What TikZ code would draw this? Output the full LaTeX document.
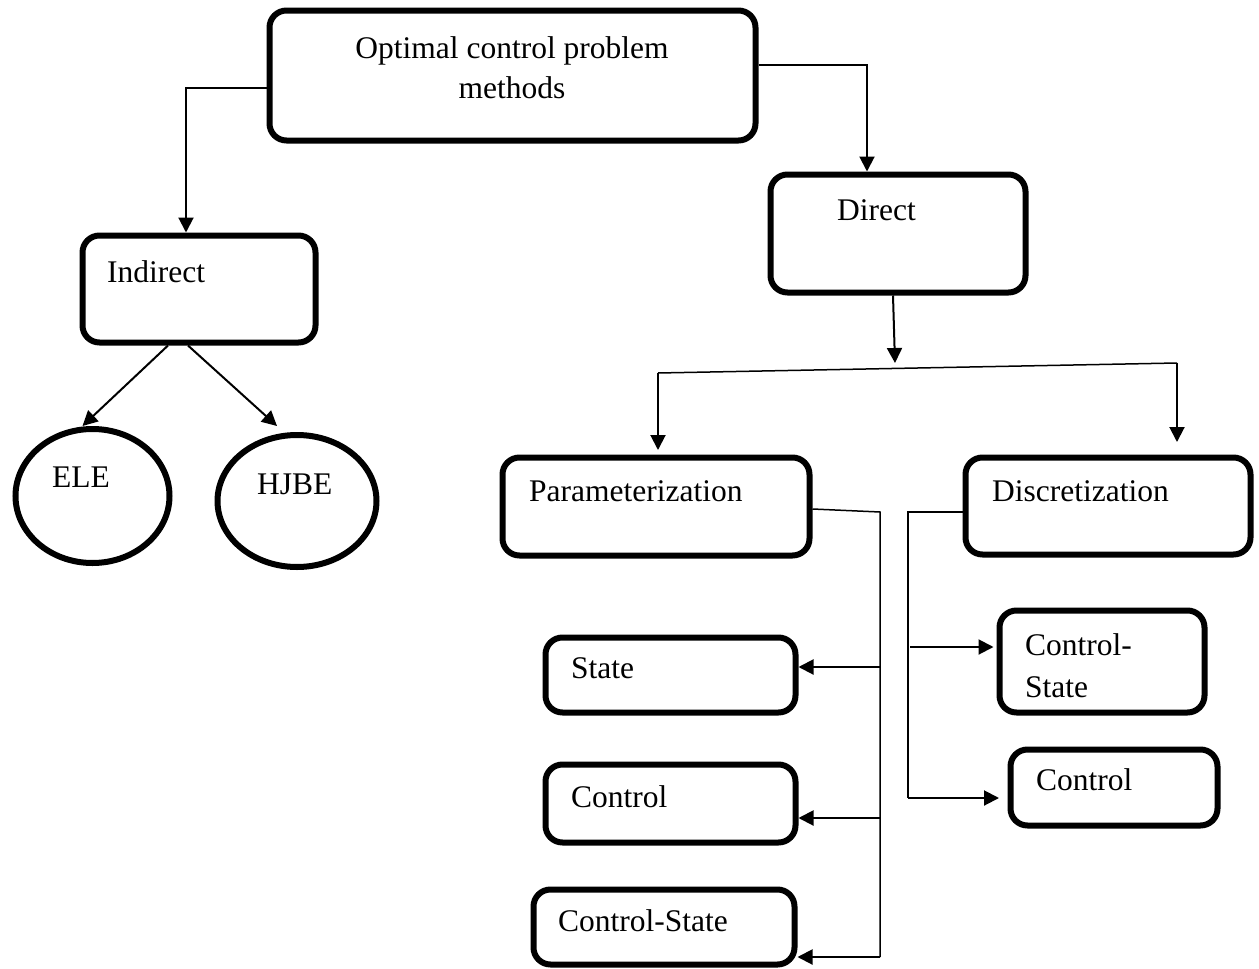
\documentclass[tikz,border=0pt]{standalone}
\usepackage{fontspec}
\setmainfont{Liberation Serif}
\usetikzlibrary{arrows.meta,shapes.geometric,calc}
\begin{document}
\begin{tikzpicture}[x=1pt,y=-1pt,
  box/.style={draw, line width=6pt, rounded corners=17pt, inner sep=0pt},
  oval/.style={draw, ellipse, line width=6pt, inner sep=0pt},
  txt/.style={anchor=base west, inner sep=0pt, font=\fontsize{31.5}{42}\selectfont},
  ctxt/.style={anchor=base, inner sep=0pt, font=\fontsize{31.5}{42}\selectfont},
  arr/.style={line width=2pt, -{Triangle[length=15pt,width=15pt]}},
  ln/.style={line width=1.5pt}]
\useasboundingbox (0,0) rectangle (1259,969);
% boxes
\node[box, minimum width=486pt, minimum height=130pt] (top) at (512.5,75.5) {};
\node[box, minimum width=233pt, minimum height=107pt] (ind) at (199,289) {};
\node[box, minimum width=255pt, minimum height=118pt] (dir) at (898,233.5) {};
\node[box, minimum width=307pt, minimum height=98pt] (par) at (656,506.5) {};
\node[box, minimum width=285pt, minimum height=97pt] (disc) at (1108,506) {};
\node[box, minimum width=250pt, minimum height=75pt] (state) at (670.5,675) {};
\node[box, minimum width=250pt, minimum height=78pt] (ctrll) at (670.5,803.5) {};
\node[box, minimum width=261pt, minimum height=75pt] (csl) at (664,927) {};
\node[box, minimum width=205pt, minimum height=102pt] (csr) at (1102,661.5) {};
\node[box, minimum width=207pt, minimum height=76pt] (ctrlr) at (1114,787.5) {};
\node[oval, minimum width=154pt, minimum height=134pt] (ele) at (92.5,496) {};
\node[oval, minimum width=159pt, minimum height=132pt] (hjbe) at (297,501) {};
% texts
\node[ctxt] (t1) at (512,58) {Optimal control problem};
\node[ctxt] (t2) at (512,98) {methods};
\node[txt] (tind) at (107,282) {Indirect};
\node[txt] (tdir) at (837,220) {Direct};
\node[txt] (tpar) at (529,501) {Parameterization};
\node[txt] (tdisc) at (992,501) {Discretization};
\node[txt] (tstate) at (571,678) {State};
\node[txt] (tctrll) at (571,807) {Control};
\node[txt] (tcsl) at (558,931) {Control-State};
\node[txt] (tcsr1) at (1025,655) {Control-};
\node[txt] (tcsr2) at (1025,697) {State};
\node[txt] (tctrlr) at (1036,790) {Control};
\node[txt] (tele) at (52,487) {ELE};
\node[txt] (thjbe) at (257,494) {HJBE};
% connectors from top
\draw[arr] ([yshift=-12.5pt]top.west) -| ([xshift=-13pt]ind.north);
\draw[arr] ([yshift=10.5pt]top.east) -| ([xshift=-31pt]dir.north);
% indirect to ellipses
\draw[arr] ([xshift=-31pt]ind.south) -- ([xshift=-10pt]ele.north);
\draw[arr] ([xshift=-11pt]ind.south) -- ([xshift=-20pt,yshift=6pt]hjbe.north);
% direct branch
\coordinate (jd) at (895,363);
\coordinate (bl) at (658,373);
\coordinate (br) at (1177,363);
\draw[arr] ([xshift=-5pt]dir.south) -- (jd);
\draw[ln] (bl) -- (br);
\draw[arr, shorten >=4.5pt] (bl) -- (bl |- par.north);
\draw[arr, shorten >=12.5pt] (br) -- (br |- disc.north);
% parameterization tree
\coordinate (pv) at (880,512);
\coordinate (pb) at (880,957);
\draw[ln] ([yshift=-2.5pt]par.east) -- (pv) -- (pb);
\coordinate (sA) at ([yshift=8pt]state.east);
\coordinate (cA) at ([yshift=-14.5pt]ctrll.east);
\coordinate (csA) at ([yshift=-30pt]csl.east);
\draw[arr] (sA -| pv) -- (sA);
\draw[arr] (cA -| pv) -- (cA);
\draw[arr] (csA -| pv) -- (csA);
% discretization tree
\coordinate (dtop) at (908,512);
\coordinate (dbot) at (908,798);
\draw[ln] ([yshift=-6pt]disc.west) -- (dtop) -- (dbot);
\coordinate (rA) at ([yshift=14.5pt]csr.west);
\coordinate (rB) at ([yshift=-10.5pt]ctrlr.west);
\draw[arr, shorten >=3pt] ([xshift=2pt]rA -| dtop) -- (rA);
\draw[arr, shorten >=8.5pt] (dbot) -- (rB);
\end{tikzpicture}
\end{document}
